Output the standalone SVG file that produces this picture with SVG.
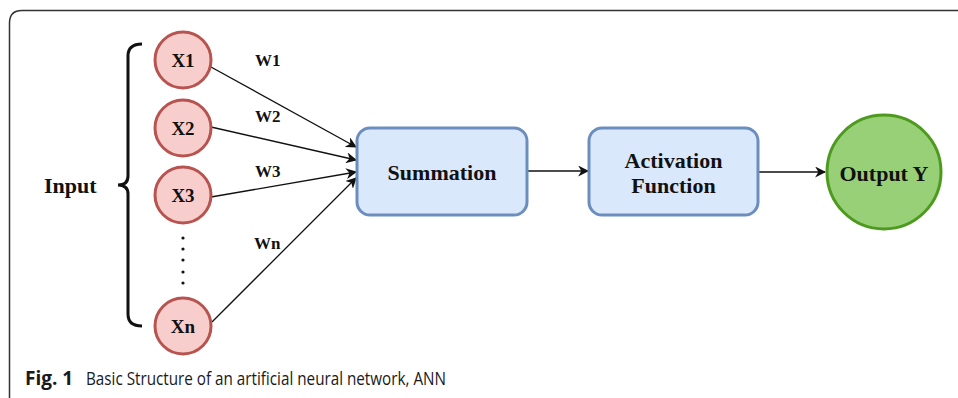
<svg xmlns="http://www.w3.org/2000/svg" width="958" height="398" viewBox="0 0 958 398">
<style>
.inp{fill:#f8cecc;stroke:#b85450;stroke-width:3}
.box{fill:#dae8fc;stroke:#6c8ebf;stroke-width:3}
.out{fill:#97d077;stroke:#4e9a1f;stroke-width:3}
.t{font-family:"Liberation Serif","Times New Roman",serif;font-weight:bold;fill:#111;text-anchor:middle}
.w{font-family:"Liberation Serif","Times New Roman",serif;font-weight:bold;fill:#111;font-size:17px}
.edge{stroke:#111;stroke-width:1.3;fill:none;marker-end:url(#ah)}
.cap{font-family:"Open Sans","Noto Sans",sans-serif;fill:#1a1a1a;font-size:18px}
</style>
<defs>
<marker id="ah" viewBox="0 0 10 10" refX="9" refY="5" markerWidth="11" markerHeight="11" markerUnits="userSpaceOnUse" orient="auto">
<path d="M0,0 L10,5 L0,10 L3,5 Z" fill="#111"/>
</marker>
</defs>
<rect width="958" height="398" fill="#fff"/>
<path d="M9.5,398 V23 Q9.5,10.5 22,10.5 H958" fill="none" stroke="#333" stroke-width="1.5"/>
<g id="brace">
<path d="M142,44 Q128,44 128,56 V176 Q128,185 118,185 Q128,185 128,194 V314 Q128,326 142,326" fill="none" stroke="#111" stroke-width="3"/>
<text x="44" y="193" class="w" style="font-size:22px">Input</text>
</g>
<g id="connectors">
<line x1="211" y1="67" x2="356" y2="147" class="edge"/>
<line x1="211" y1="127" x2="356" y2="160" class="edge"/>
<line x1="211" y1="197" x2="356" y2="172" class="edge"/>
<line x1="212" y1="322" x2="356" y2="178" class="edge"/>
<line x1="527" y1="171" x2="588" y2="171" class="edge"/>
<line x1="758" y1="172" x2="825" y2="172" class="edge"/>
<text x="255" y="66" class="w">W1</text>
<text x="255" y="122" class="w">W2</text>
<text x="255" y="177" class="w">W3</text>
<text x="254" y="249" class="w">Wn</text>
</g>
<g id="x1"><circle cx="183" cy="60" r="28" class="inp"/><text x="183" y="67" class="t" font-size="19">X1</text></g>
<g id="x2"><circle cx="183" cy="128" r="28" class="inp"/><text x="183" y="135" class="t" font-size="19">X2</text></g>
<g id="x3"><circle cx="183" cy="195" r="28" class="inp"/><text x="183" y="202" class="t" font-size="19">X3</text></g>
<g id="dots" fill="#111">
<circle cx="183" cy="238" r="1.6"/><circle cx="183" cy="249" r="1.6"/><circle cx="183" cy="260" r="1.6"/><circle cx="183" cy="272" r="1.6"/><circle cx="183" cy="283" r="1.6"/>
</g>
<g id="xn"><circle cx="183" cy="326" r="28" class="inp"/><text x="183" y="333" class="t" font-size="19">Xn</text></g>
<g id="summation"><rect x="357" y="128" width="170" height="87" rx="13" class="box"/><text x="442" y="180" class="t" font-size="22">Summation</text></g>
<g id="activation"><rect x="589" y="128" width="169" height="87" rx="13" class="box"/><text x="673.5" y="168" class="t" font-size="22">Activation</text><text x="673.5" y="193" class="t" font-size="22">Function</text></g>
<g id="output"><circle cx="884" cy="172" r="57" class="out"/><text x="884" y="181" class="t" font-size="22">Output Y</text></g>
<text x="25" y="385" class="cap"><tspan font-weight="bold" font-size="19">Fig. 1</tspan><tspan x="86" textLength="360" lengthAdjust="spacingAndGlyphs">Basic Structure of an artificial neural network, ANN</tspan></text>
</svg>
